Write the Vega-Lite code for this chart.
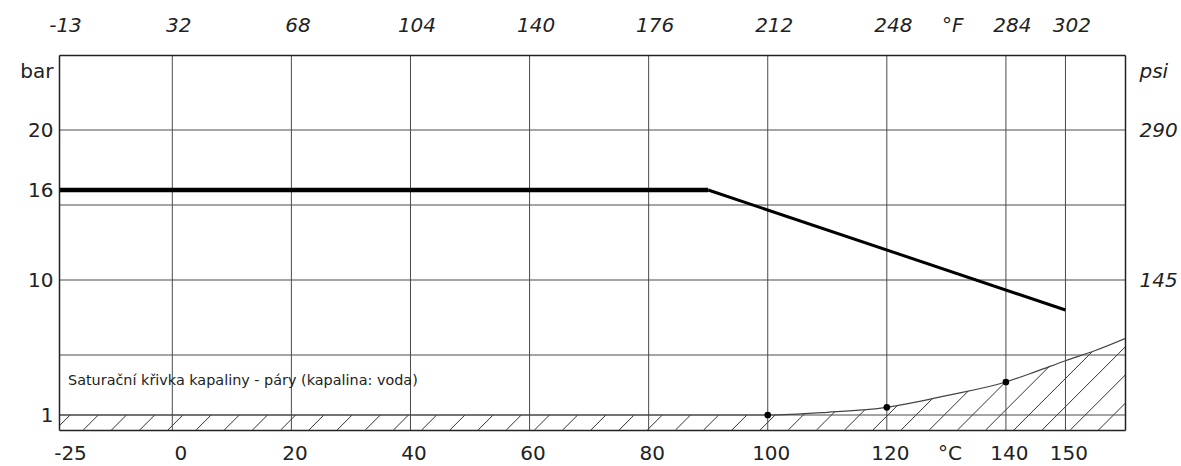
{
  "$schema": "https://vega.github.io/schema/vega-lite/v6.json",
  "width": 1066,
  "height": 375,
  "autosize": {"type": "none"},
  "padding": {"left": 59, "top": 55, "right": 56, "bottom": 36},
  "background": "white",
  "config": {
    "view": {"stroke": null},
    "axis": {
      "labelFont": "DejaVu Sans",
      "labelFontSize": 20,
      "labelColor": "#222222",
      "domainColor": "#222222",
      "domainWidth": 1.5,
      "ticks": false,
      "grid": false,
      "title": null,
      "labelOverlap": false,
      "labelFlush": false,
      "labelBound": false
    }
  },
  "datasets": {
    "hatch": [
      {"x": -25.86, "x2": -2.69}, {"x": -19.64, "x2": 2.69}, {"x": -13.42, "x2": 7.42},
      {"x": -7.19, "x2": 12.16}, {"x": -0.97, "x2": 16.9}, {"x": 4.0, "x2": 21.64},
      {"x": 8.73, "x2": 26.37}, {"x": 13.47, "x2": 31.11}, {"x": 18.2, "x2": 35.84},
      {"x": 22.94, "x2": 40.58}, {"x": 27.68, "x2": 45.32}, {"x": 32.41, "x2": 50.05},
      {"x": 37.15, "x2": 54.79}, {"x": 41.88, "x2": 59.52}, {"x": 46.62, "x2": 64.26},
      {"x": 51.36, "x2": 69.0}, {"x": 56.09, "x2": 73.73}, {"x": 60.83, "x2": 78.47},
      {"x": 65.56, "x2": 83.2}, {"x": 70.3, "x2": 87.94}, {"x": 75.04, "x2": 92.68},
      {"x": 79.77, "x2": 97.41}, {"x": 84.51, "x2": 102.15}, {"x": 89.24, "x2": 106.88},
      {"x": 93.98, "x2": 111.62}, {"x": 98.72, "x2": 116.36}, {"x": 103.45, "x2": 121.09},
      {"x": 108.19, "x2": 125.83}, {"x": 112.92, "x2": 130.56}, {"x": 117.66, "x2": 135.3},
      {"x": 122.4, "x2": 140.04}, {"x": 127.13, "x2": 144.77}, {"x": 131.87, "x2": 149.51},
      {"x": 136.6, "x2": 154.24}, {"x": 141.34, "x2": 158.98}, {"x": 146.08, "x2": 163.72},
      {"x": 150.81, "x2": 168.45}, {"x": 155.55, "x2": 173.19}
    ],
    "saturation": [
      {"c": -25, "p": 1}, {"c": 100, "p": 1}, {"c": 110, "p": 1.18}, {"c": 120, "p": 1.51},
      {"c": 130, "p": 2.29}, {"c": 140, "p": 3.2}, {"c": 145, "p": 3.89}, {"c": 150, "p": 4.62},
      {"c": 155, "p": 5.3}, {"c": 160, "p": 6.1}
    ],
    "satpoints": [{"c": 100, "p": 1}, {"c": 120, "p": 1.51}, {"c": 140, "p": 3.2}],
    "gridx": [{"c": 0}, {"c": 20}, {"c": 40}, {"c": 60}, {"c": 80}, {"c": 100}, {"c": 120}, {"c": 140}, {"c": 150}],
    "gridy": [{"p": 1}, {"p": 5}, {"p": 10}, {"p": 15}, {"p": 20}],
    "limitflat": [{"c": -25, "c2": 90, "p": 16}],
    "limitslope": [{"c": 90, "p": 16}, {"c": 150, "p": 8}],
    "label": [{"c": -25, "p": 3.0, "t": "Saturační křivka kapaliny - páry (kapalina: voda)"}]
  },
  "resolve": {"axis": {"x": "independent", "y": "independent"}},
  "layer": [
    {
      "data": {"name": "hatch"},
      "mark": {"type": "rule", "clip": true, "color": "#333333", "strokeWidth": 1},
      "encoding": {
        "x": {"field": "x", "type": "quantitative", "scale": {"domain": [-25, 0, 160], "range": [0, 113.3, 1066], "nice": false, "zero": false}, "axis": null},
        "x2": {"field": "x2"},
        "y": {"datum": 0, "type": "quantitative", "scale": {"domain": [0, 25], "nice": false, "zero": false}, "axis": null},
        "y2": {"datum": 7}
      }
    },
    {
      "data": {"name": "saturation"},
      "mark": {"type": "area", "clip": true, "color": "white", "opacity": 1, "interpolate": "monotone"},
      "encoding": {
        "x": {"field": "c", "type": "quantitative", "scale": {"domain": [-25, 0, 160], "range": [0, 113.3, 1066], "nice": false, "zero": false}, "axis": null},
        "y": {"field": "p", "type": "quantitative", "scale": {"domain": [0, 25], "nice": false, "zero": false}, "axis": null},
        "y2": {"datum": 7.6}
      }
    },
    {
      "data": {"name": "gridx"},
      "mark": {"type": "rule", "color": "#4a4a4a", "strokeWidth": 1},
      "encoding": {
        "x": {"field": "c", "type": "quantitative", "scale": {"domain": [-25, 0, 160], "range": [0, 113.3, 1066], "nice": false, "zero": false}, "axis": null}
      }
    },
    {
      "data": {"name": "gridy"},
      "mark": {"type": "rule", "color": "#4a4a4a", "strokeWidth": 1},
      "encoding": {
        "y": {"field": "p", "type": "quantitative", "scale": {"domain": [0, 25], "nice": false, "zero": false}, "axis": null}
      }
    },
    {
      "data": {"name": "saturation"},
      "mark": {"type": "line", "clip": true, "color": "#444444", "strokeWidth": 1.2, "interpolate": "monotone"},
      "encoding": {
        "x": {"field": "c", "type": "quantitative", "scale": {"domain": [-25, 0, 160], "range": [0, 113.3, 1066], "nice": false, "zero": false}, "axis": null},
        "y": {"field": "p", "type": "quantitative", "scale": {"domain": [0, 25], "nice": false, "zero": false}, "axis": null}
      }
    },
    {
      "data": {"name": "satpoints"},
      "mark": {"type": "circle", "color": "black", "opacity": 1, "size": 45},
      "encoding": {
        "x": {
          "field": "c", "type": "quantitative",
          "scale": {"domain": [-25, 0, 160], "range": [0, 113.3, 1066], "nice": false, "zero": false},
          "axis": {
            "orient": "bottom",
            "zindex": 2,
            "values": [-25, 0, 20, 40, 60, 80, 100, 120, 130, 140, 150],
            "labelExpr": "datum.value == 130 ? '°C' : '' + datum.value",
            "labelPadding": 13,
            "labelOffset": {"condition": [{"test": "datum.value == -25", "value": 11}, {"test": "datum.value == 0", "value": 8}], "value": 3}
          }
        },
        "y": {
          "field": "p", "type": "quantitative",
          "scale": {"domain": [0, 25], "nice": false, "zero": false},
          "axis": {
            "orient": "left",
            "zindex": 2,
            "values": [1, 10, 16, 20, 23.9],
            "labelExpr": "datum.value > 23 ? 'bar' : '' + datum.value",
            "labelPadding": 6
          }
        }
      }
    },
    {
      "data": {"name": "limitflat"},
      "mark": {"type": "rule", "color": "black", "strokeWidth": 4.5, "strokeCap": "butt"},
      "encoding": {
        "x": {"field": "c", "type": "quantitative", "scale": {"domain": [-25, 0, 160], "range": [0, 113.3, 1066], "nice": false, "zero": false}, "axis": null},
        "x2": {"field": "c2"},
        "y": {"field": "p", "type": "quantitative", "scale": {"domain": [0, 25], "nice": false, "zero": false}, "axis": null}
      }
    },
    {
      "data": {"name": "limitslope"},
      "mark": {"type": "line", "color": "black", "strokeWidth": 3, "strokeCap": "butt"},
      "encoding": {
        "x": {
          "field": "c", "type": "quantitative",
          "scale": {"domain": [-25, 0, 160], "range": [0, 113.3, 1066], "nice": false, "zero": false},
          "axis": {
            "orient": "top",
            "zindex": 2,
            "values": [-25, 0, 20, 40, 60, 80, 100, 120, 130, 140, 150],
            "labelExpr": "datum.value == 130 ? '°F' : '' + round(datum.value * 1.8 + 32)",
            "labelFontStyle": "italic",
            "labelPadding": 20,
            "labelOffset": 6
          }
        },
        "y": {
          "field": "p", "type": "quantitative",
          "scale": {"domain": [0, 25], "nice": false, "zero": false},
          "axis": {
            "orient": "right",
            "zindex": 2,
            "values": [10, 20, 23.9],
            "labelExpr": "datum.value > 23 ? 'psi' : '' + round(datum.value * 14.5)",
            "labelFontStyle": "italic",
            "labelPadding": 14
          }
        }
      }
    },
    {
      "data": {"name": "label"},
      "mark": {"type": "text", "align": "left", "baseline": "alphabetic", "dx": 9, "font": "DejaVu Sans", "fontSize": 14.4, "color": "#222222"},
      "encoding": {
        "x": {"field": "c", "type": "quantitative", "scale": {"domain": [-25, 0, 160], "range": [0, 113.3, 1066], "nice": false, "zero": false}, "axis": null},
        "y": {"field": "p", "type": "quantitative", "scale": {"domain": [0, 25], "nice": false, "zero": false}, "axis": null},
        "text": {"field": "t"}
      }
    }
  ]
}
